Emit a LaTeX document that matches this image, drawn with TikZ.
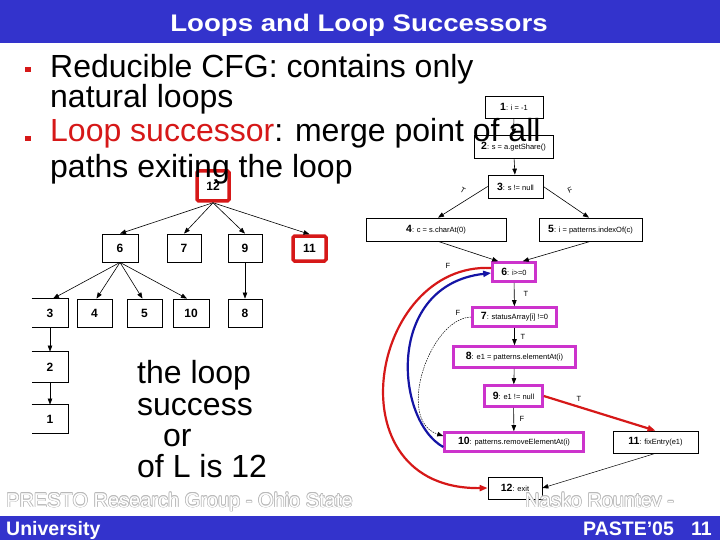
\documentclass[tikz,border=0pt]{standalone}
\usepackage{fontspec}
\setmainfont{Liberation Sans}
\usetikzlibrary{arrows.meta,calc}
\definecolor{barblue}{RGB}{51,51,204}
\definecolor{mag}{RGB}{204,51,204}
\definecolor{myred}{RGB}{214,24,24}
\definecolor{myblue}{RGB}{20,20,165}
\newcommand\cfgt[2]{{\fontsize{10.5}{11}\selectfont\bfseries #1}: #2}
\begin{document}
\begin{tikzpicture}[x=1pt,y=-1pt,
  every node/.style={font=\fontsize{7.5}{9}\selectfont},
  cbox/.style={draw=black, fill=white, line width=0.7pt, inner sep=0pt, align=center},
  mbox/.style={cbox, draw=mag, line width=2.6pt},
  sz/.style 2 args={minimum width=#1pt, minimum height=#2pt},
  tbox/.style={draw=black, fill=white, line width=0.8pt, inner sep=0pt, font=\fontsize{12}{12}\selectfont\bfseries},
  rbox/.style={tbox, draw=myred, line width=3.5pt, rounded corners=1.5pt},
  arr/.style={-{Triangle[length=6pt,width=4.5pt]}, line width=0.6pt},
  redarr/.style={-{Triangle[length=8pt,width=6pt]}, draw=myred, line width=2.2pt},
  bluearr/.style={-{Triangle[length=8pt,width=6pt]}, draw=myblue, line width=2.2pt},
  dotarr/.style={-{Triangle[length=6pt,width=4.5pt]}, line width=0.5pt, dash pattern=on 1.5pt off 1pt},
  lbl/.style={font=\fontsize{7.5}{8}\selectfont, inner sep=0pt},
  body/.style={font=\fontsize{32}{32}\selectfont, anchor=base west, inner sep=0pt},
  foot/.style={font=\fontsize{20}{20}\selectfont, anchor=base west, inner sep=0pt},
  footb/.style={font=\fontsize{19.5}{20}\selectfont\bfseries, text=white, inner sep=0pt},
]
\useasboundingbox (0,0) rectangle (720,540);
\fill[white] (0,0) rectangle (720,540);
% bars
\fill[barblue] (0,0) rectangle (720,43);
\fill[barblue] (0,516) rectangle (720,540);
\node[font=\fontsize{24}{24}\selectfont\bfseries, text=white, anchor=base, inner sep=0pt] (title) at (359,32) {\scalebox{1.15}[1]{Loops and Loop Successors}};

% ---------- CFG ----------
\node[cbox, sz={58}{22}] (c1) at (514,107) {\cfgt{1}{i = -1}};
\node[cbox, sz={79}{23}] (c2) at (513.5,146.5) {\cfgt{2}{s = a.getShare()}};
\node[cbox, sz={55}{23}] (c3) at (515.5,186.5) {\cfgt{3}{s != null}};
\node[cbox, sz={140}{23}] (c4) at (436,229.5) {\cfgt{4}{c = s.charAt(0)}};
\node[cbox, sz={103}{23}] (c5) at (590.5,229.5) {\cfgt{5}{i = patterns.indexOf(c)}};
\node[mbox, sz={43}{19}] (c6) at (514,272) {\cfgt{6}{i>=0}};
\node[mbox, sz={84}{19}] (c7) at (514.5,317) {\cfgt{7}{statusArray[i] !=0}};
\node[mbox, sz={122}{21}] (c8) at (514.5,357) {\cfgt{8}{e1 = patterns.elementAt(i)}};
\node[mbox, sz={58}{21}] (c9) at (513.5,396) {\cfgt{9}{e1 != null}};
\node[mbox, sz={139}{19}] (c10) at (514,442) {\cfgt{10}{patterns.removeElementAt(i)}};
\node[cbox, sz={85}{22}] (c11) at (655.5,442) {\cfgt{11}{fixEntry(e1)}};
\node[cbox, sz={54}{22}] (c12) at (515,488) {\cfgt{12}{exit}};

\draw[arr] (c1) -- (c2);
\draw[arr] (c2) -- (c3);
\draw[arr] (c3.west) -- ([xshift=2pt]c4.north);
\draw[arr] (c3.east) -- ([xshift=-1.5pt]c5.north);
\draw[arr] ([xshift=2pt]c4.south) -- ([xshift=7pt]c6.north west);
\draw[arr] (c5.south) -- ([xshift=-14pt]c6.north east);
\draw[arr] (c6) -- (c7);
\draw[arr] (c7) -- (c8);
\draw[arr] (c8) -- (c9);
\draw[arr] (c9) -- (c10);
\draw[redarr] (c9.east) -- (c11.north);
\draw[arr, line width=0.5pt] (c11.south) -- (c12.east);
\draw[redarr] ([yshift=4pt]c6.west) .. controls (370,262) and (330,490) .. (c12.west);
\draw[bluearr] ([yshift=-5pt]c10.west) .. controls (395,420) and (385,285) .. ([yshift=-1pt]c6.west);
\draw[dotarr] (c7.west) .. controls (430,318) and (395,420) .. ([yshift=6pt]c10.west);

\node[lbl, rotate=-30] (l1) at (463,190) {T};
\node[lbl, rotate=25] (l2) at (570,190) {F};
\node[lbl] (l3) at (448,266) {F};
\node[lbl] (l4) at (526,294) {T};
\node[lbl] (l5) at (458,313) {F};
\node[lbl] (l6) at (523,337) {T};
\node[lbl] (l7) at (579,399) {T};
\node[lbl] (l8) at (522,419) {F};

% ---------- dominator-like tree ----------
\node[rbox, sz={32}{30}] (t12) at (213,186) {12};
\node[tbox, sz={36}{28}] (t6) at (120,248) {6};
\node[tbox, sz={34}{28}] (t7) at (184,248) {7};
\node[tbox, sz={34}{28}] (t9) at (245,248) {9};
\node[rbox, sz={33}{25}] (t11) at (309.5,248.5) {11};
\node[tbox, sz={36}{28}, draw=none] (t3) at (50,313) {3};
\node[tbox, sz={35}{28}] (t4) at (94.5,313) {4};
\node[tbox, sz={35}{28}] (t5) at (144.5,313) {5};
\node[tbox, sz={36}{28}] (t10) at (191,313) {10};
\node[tbox, sz={34}{28}] (t8) at (245,313) {8};
\node[tbox, sz={36}{30}, draw=none] (t2) at (50,367) {2};
\node[tbox, sz={36}{28}, draw=none] (t1) at (50,419) {1};
\foreach \n in {t3,t2,t1}
  \draw[line width=0.8pt] (\n.north west) -- (\n.north east) -- (\n.south east) -- (\n.south west);

\draw[arr] (t12.south) -- (t6.north);
\draw[arr] (t12.south) -- (t7.north);
\draw[arr] (t12.south) -- (t9.north);
\draw[arr] (t12.south) -- (t11.north);
\draw[arr] (t6.south) -- ([xshift=3pt]t3.north);
\draw[arr] (t6.south) -- ([xshift=2pt]t4.north);
\draw[arr] (t6.south) -- ([xshift=-2pt]t5.north);
\draw[arr] (t6.south) -- ([xshift=-4pt]t10.north);
\draw[arr] (t9) -- (t8);
\draw[arr] (t3) -- (t2);
\draw[arr] (t2) -- (t1);

% ---------- bullet text ----------
\fill[myred] (25,67) rectangle (31,72.5);
\fill[myred] (25,136) rectangle (31,141.5);
\node[body] (b1) at (50,78) {Reducible CFG: contains only};
\node[body] (b2) at (50,108) {natural loops};
\node[body] (b3) at (50,142) {\textcolor{myred}{Loop successor}: merge point of all};
\node[body] (b4) at (50,178) {paths exiting the loop};

\node[body] (s1) at (137,383) {the loop};
\node[body] (s2) at (137,415) {success};
\node[body] (s3) at (163,446) {or};
\node[body] (s4) at (137,477) {of L is 12};

% ---------- footer ----------
\foreach \dx/\dy in {0.7/0,-0.7/0,0/0.7,0/-0.7,0.5/0.5,-0.5/0.5,0.5/-0.5,-0.5/-0.5}{
  \node[foot, text=gray!55, xshift=\dx pt, yshift=\dy pt] at (6,507) {PRESTO Research Group - Ohio State};
  \node[foot, text=gray!55, xshift=\dx pt, yshift=\dy pt] at (525,507) {Nasko Rountev -};
}
\node[foot, text=white] (f1) at (6,507) {PRESTO Research Group - Ohio State};
\node[foot, text=white] (f2) at (525,507) {Nasko Rountev -};
\node[footb, anchor=base west] (f3) at (6,535) {University};
\node[footb, anchor=base west] (f4) at (583,535) {PASTE'05};
\node[footb, anchor=base east] (f5) at (712,535) {11};
\end{tikzpicture}
\end{document}
